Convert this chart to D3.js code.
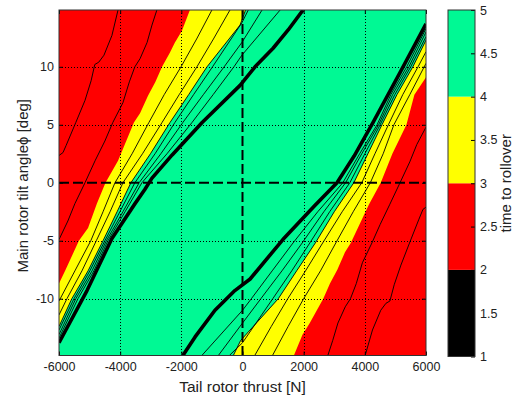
<!DOCTYPE html>
<html>
<head>
<meta charset="utf-8">
<script src="https://cdn.jsdelivr.net/npm/d3@7"></script>
<style>
  body { margin: 0; background: #fff; }
  svg { display: block; }
  text { font-family: "Liberation Sans", Arial, Helvetica, sans-serif; fill: #222; }
</style>
</head>
<body>
<svg id="chart" width="521" height="396"></svg>
<script>
// ---- axes ----
const thrustDomain = [-6000, 6000];
const angleDomain = [-14.9, 14.9];
const thrustTicks = [-6000, -4000, -2000, 0, 2000, 4000, 6000];
const angleTicks = [-10, -5, 0, 5, 10];

// ---- colour levels (time to rollover) ----
const timeLevels = [1, 2, 3, 4, 5];
const levelColors = ["#000000", "#ff0000", "#ffff00", "#00f994"];
const colorbarTicks = [1, 1.5, 2, 2.5, 3, 3.5, 4, 4.5, 5];

// ---- contour lines, [thrust N, tilt deg] ----
// negative-thrust band (runs from the top edge to the left edge)
const westRed1 = [[-4070,14.9],[-4270,12.7],[-4530,11.0],[-4700,10.4],[-4830,10.2],[-4950,8.8],[-5150,7.1],[-5450,5.2],[-5770,3.2],[-5870,2.6],[-6000,2.35]];
const westRed2 = [[-2800,14.9],[-2960,13.6],[-3120,12.1],[-3350,10.7],[-3520,10.0],[-3700,8.7],[-3910,6.9],[-4240,5.2],[-4500,3.6],[-4820,1.9],[-5150,0],[-5480,-1.8],[-5710,-3.3],[-6000,-4.9]];
const westRedYellow = [[-1720,14.9],[-1980,13.1],[-2210,12.1],[-2380,11.2],[-2630,10.0],[-2850,8.7],[-3090,7.5],[-3350,6.0],[-3550,5.2],[-4070,1.9],[-4480,0],[-4760,-1.8],[-5050,-3.9],[-5350,-5.0],[-5800,-7.6],[-6000,-8.7]];
const westYellow1 = [[-1000,14.9],[-1500,12.4],[-2010,10.0],[-2560,7.6],[-3060,5.2],[-3610,2.5],[-4170,0],[-4560,-2.5],[-4960,-5.0],[-5480,-7.6],[-6000,-10.2]];
const westYellow2 = [[-410,14.9],[-950,12.4],[-1490,10.0],[-2070,7.6],[-2630,5.2],[-3270,2.5],[-3910,0],[-4330,-2.5],[-4780,-5.0],[-5250,-7.6],[-5740,-10.0],[-6000,-11.4]];
const westYellowGreen = [[100,14.9],[-80,13.6],[-1160,10.0],[-1760,7.6],[-2370,5.2],[-3010,2.5],[-3650,0],[-4100,-2.5],[-4560,-5.0],[-5050,-7.6],[-5580,-10.0],[-6000,-12.4]];
const westGreen1 = [[190,14.9],[-20,13.8],[-980,10.0],[-1600,7.6],[-2210,5.2],[-2860,2.5],[-3520,0],[-4010,-2.5],[-4500,-5.0],[-4990,-7.6],[-5510,-10.0],[-6000,-12.7]];
const westGreen2 = [[640,14.9],[-20,12.1],[-600,10.0],[-1280,7.6],[-1950,5.2],[-2670,2.5],[-3380,0],[-3910,-2.5],[-4450,-5.0],[-4920,-7.6],[-5450,-10.0],[-6000,-13.1]];
const westGreen3 = [[1230,14.9],[-20,11.0],[-280,10.0],[-960,7.6],[-1650,5.2],[-2470,2.5],[-3290,0],[-3840,-2.5],[-4400,-5.0],[-4860,-7.6],[-5380,-10.0],[-6000,-13.4]];
const westRidge = [[1980,14.9],[1500,13.2],[1000,11.6],[410,10.0],[-80,8.4],[-1320,5.2],[-2300,2.4],[-2960,0.4],[-3200,-0.6],[-3515,-1.8],[-4270,-4.8],[-5085,-9.3],[-6000,-13.8]];

// positive-thrust band (runs from the bottom edge to the right edge)
const eastRed1 = [[4010,-14.9],[4250,-12.7],[4520,-11.0],[4690,-10.4],[4820,-10.2],[4960,-8.8],[5180,-7.1],[5460,-5.2],[5760,-3.2],[5900,-2.3],[6000,-2.1]];
const eastRed2 = [[2790,-14.9],[2950,-13.6],[3120,-12.1],[3360,-10.7],[3530,-10.0],[3720,-8.7],[3920,-6.9],[4230,-5.2],[4500,-3.6],[4810,-1.9],[5150,0],[5470,1.8],[5700,3.3],[6000,4.8]];
const eastRedYellow = [[1680,-14.9],[1960,-13.1],[2200,-12.1],[2390,-11.2],[2640,-10.0],[2860,-8.7],[3100,-7.5],[3350,-6.0],[3540,-5.2],[4130,-1.9],[4520,0],[4900,2.5],[5360,5.0],[5620,7.6],[6000,9.1]];
const eastYellow1 = [[980,-14.9],[1490,-12.4],[2000,-10.0],[2550,-7.6],[3050,-5.2],[3620,-2.5],[4180,0],[4600,2.5],[4950,5.0],[5470,7.6],[6000,10.3]];
const eastYellow2 = [[400,-14.9],[940,-12.4],[1480,-10.0],[2060,-7.6],[2620,-5.2],[3260,-2.5],[3900,0],[4330,2.5],[4770,5.0],[5240,7.6],[5740,10.0],[6000,11.3]];
const eastYellowGreen = [[-300,-14.9],[-60,-13.6],[1170,-10.0],[1770,-7.6],[2380,-5.2],[3000,-2.5],[3640,0],[4100,2.5],[4560,5.0],[5050,7.6],[5570,10.0],[6000,12.3]];
const eastGreen1 = [[-430,-14.9],[0,-13.8],[990,-10.0],[1610,-7.6],[2200,-5.2],[2850,-2.5],[3510,0],[4000,2.5],[4500,5.0],[4980,7.6],[5500,10.0],[6000,12.6]];
const eastGreen2 = [[-790,-14.9],[0,-12.1],[600,-10.0],[1290,-7.6],[1950,-5.2],[2660,-2.5],[3370,0],[3900,2.5],[4450,5.0],[4910,7.6],[5440,10.0],[6000,13.0]];
const eastGreen3 = [[-1330,-14.9],[0,-11.0],[290,-10.0],[970,-7.6],[1650,-5.2],[2460,-2.5],[3280,0],[3830,2.5],[4400,5.0],[4850,7.6],[5370,10.0],[6000,13.3]];
const eastRidge = [[-1950,-14.9],[-1550,-13.3],[-900,-11.0],[-250,-9.3],[250,-8.3],[1320,-4.9],[2350,-2.0],[3090,0],[3650,2.3],[4270,5.2],[5150,9.5],[6000,13.7]];

// ---- layout ----
const svg = d3.select("#chart");
const plot = { left: 59, right: 426, top: 10, bottom: 355.5 };
const cbar = { left: 448, right: 475, top: 10, bottom: 356.5 };

const x = d3.scaleLinear().domain(thrustDomain).range([plot.left, plot.right]);
const y = d3.scaleLinear().domain(angleDomain).range([plot.bottom, plot.top]);
const c = d3.scaleLinear().domain([timeLevels[0], timeLevels[timeLevels.length - 1]]).range([cbar.bottom, cbar.top]);

const line = d3.line().x(d => x(d[0])).y(d => y(d[1]));

svg.append("defs").append("clipPath").attr("id", "plotClip")
  .append("rect")
  .attr("x", plot.left).attr("y", plot.top)
  .attr("width", plot.right - plot.left).attr("height", plot.bottom - plot.top);

const field = svg.append("g").attr("clip-path", "url(#plotClip)");

// green base level
field.append("rect")
  .attr("x", plot.left).attr("y", plot.top)
  .attr("width", plot.right - plot.left).attr("height", plot.bottom - plot.top)
  .attr("fill", levelColors[3]);

// region left of a line running top edge -> left edge
function westRegion(pts) {
  const first = pts[0], last = pts[pts.length - 1];
  return [[first[0], 20], ...pts, [-8000, last[1]], [-8000, 20]];
}
// region right of a line running bottom edge -> right edge
function eastRegion(pts) {
  const first = pts[0], last = pts[pts.length - 1];
  return [[first[0], -20], ...pts, [8000, last[1]], [8000, -20]];
}

const fills = [
  { pts: westRegion(westYellowGreen), color: levelColors[2] },
  { pts: westRegion(westRedYellow), color: levelColors[1] },
  { pts: eastRegion(eastYellowGreen), color: levelColors[2] },
  { pts: eastRegion(eastRedYellow), color: levelColors[1] }
];
field.selectAll("path.band").data(fills).join("path")
  .attr("class", "band")
  .attr("d", d => line(d.pts) + "Z")
  .attr("fill", d => d.color);

const thinLines = [
  westRed1, westRed2, westYellow1, westYellow2, westYellowGreen, westGreen1, westGreen2, westGreen3,
  eastRed1, eastRed2, eastYellow1, eastYellow2, eastYellowGreen, eastGreen1, eastGreen2, eastGreen3
];
field.selectAll("path.contour").data(thinLines).join("path")
  .attr("class", "contour")
  .attr("d", line)
  .attr("fill", "none")
  .attr("stroke", "#000")
  .attr("stroke-width", 0.9);

field.selectAll("path.ridge").data([westRidge, eastRidge]).join("path")
  .attr("class", "ridge")
  .attr("d", line)
  .attr("fill", "none")
  .attr("stroke", "#000")
  .attr("stroke-width", 3.6)
  .attr("stroke-linejoin", "round");

// dotted grid
const grid = svg.append("g").attr("stroke", "#000").attr("stroke-width", 1).attr("stroke-dasharray", "1,2");
grid.selectAll("line.gx").data(thrustTicks.filter(t => t !== 0 && t !== thrustDomain[0] && t !== thrustDomain[1])).join("line")
  .attr("x1", d => Math.round(x(d)) + 0.5).attr("x2", d => Math.round(x(d)) + 0.5)
  .attr("y1", plot.top).attr("y2", plot.bottom);
grid.selectAll("line.gy").data(angleTicks.filter(t => t !== 0)).join("line")
  .attr("y1", d => Math.round(y(d)) + 0.5).attr("y2", d => Math.round(y(d)) + 0.5)
  .attr("x1", plot.left).attr("x2", plot.right);

// dashed zero lines
const zero = svg.append("g").attr("stroke", "#000").attr("stroke-width", 2).attr("stroke-dasharray", "10,4");
zero.append("line").attr("x1", x(0)).attr("x2", x(0)).attr("y1", plot.top).attr("y2", plot.bottom);
zero.append("line").attr("x1", plot.left).attr("x2", plot.right).attr("y1", y(0)).attr("y2", y(0));

// axes
const fmt = d => String(d);
function styleAxis(g) {
  g.select(".domain").remove();
  g.selectAll(".tick line").attr("stroke", "#000");
  g.selectAll(".tick text").attr("fill", "#222").style("font-size", "12.5px")
    .style("font-family", "'Liberation Sans', Arial, Helvetica, sans-serif");
}
svg.append("g").attr("transform", `translate(0,${plot.bottom})`)
  .call(d3.axisBottom(x).tickValues(thrustTicks).tickFormat(fmt).tickSizeInner(-4).tickSizeOuter(0).tickPadding(7))
  .call(styleAxis);
svg.append("g").attr("transform", `translate(0,${plot.top})`)
  .call(d3.axisTop(x).tickValues(thrustTicks).tickFormat("").tickSizeInner(-4).tickSizeOuter(0))
  .call(styleAxis);
svg.append("g").attr("transform", `translate(${plot.left},0)`)
  .call(d3.axisLeft(y).tickValues(angleTicks).tickFormat(fmt).tickSizeInner(-4).tickSizeOuter(0).tickPadding(5))
  .call(styleAxis);
svg.append("g").attr("transform", `translate(${plot.right},0)`)
  .call(d3.axisRight(y).tickValues(angleTicks).tickFormat("").tickSizeInner(-4).tickSizeOuter(0))
  .call(styleAxis);

svg.append("rect")
  .attr("x", plot.left).attr("y", plot.top)
  .attr("width", plot.right - plot.left).attr("height", plot.bottom - plot.top)
  .attr("fill", "none").attr("stroke", "#333").attr("stroke-width", 1);

// axis labels
svg.append("text")
  .attr("x", (plot.left + plot.right) / 2).attr("y", 391.5)
  .attr("text-anchor", "middle").style("font-size", "15.5px")
  .text("Tail rotor thrust [N]");
svg.append("text")
  .attr("transform", `translate(27.5,${(plot.top + plot.bottom) / 2 + 3}) rotate(-90)`)
  .attr("text-anchor", "middle").style("font-size", "15px")
  .text("Main rotor tilt angleϕ [deg]");

// colour bar
const bands = d3.range(levelColors.length).map(i => ({ lo: timeLevels[i], hi: timeLevels[i + 1], color: levelColors[i] }));
svg.selectAll("rect.cb").data(bands).join("rect")
  .attr("class", "cb")
  .attr("x", cbar.left).attr("width", cbar.right - cbar.left)
  .attr("y", d => c(d.hi)).attr("height", d => c(d.lo) - c(d.hi))
  .attr("fill", d => d.color);
svg.append("g").attr("transform", `translate(${cbar.right},0)`)
  .call(d3.axisRight(c).tickValues(colorbarTicks).tickFormat(fmt).tickSizeInner(-4).tickSizeOuter(0).tickPadding(5))
  .call(styleAxis);
svg.append("rect")
  .attr("x", cbar.left).attr("y", cbar.top)
  .attr("width", cbar.right - cbar.left).attr("height", cbar.bottom - cbar.top)
  .attr("fill", "none").attr("stroke", "#333").attr("stroke-width", 1);
svg.append("text")
  .attr("transform", `translate(510.5,${(cbar.top + cbar.bottom) / 2}) rotate(-90)`)
  .attr("text-anchor", "middle").style("font-size", "15px")
  .text("time to rollover");
</script>
</body>
</html>
